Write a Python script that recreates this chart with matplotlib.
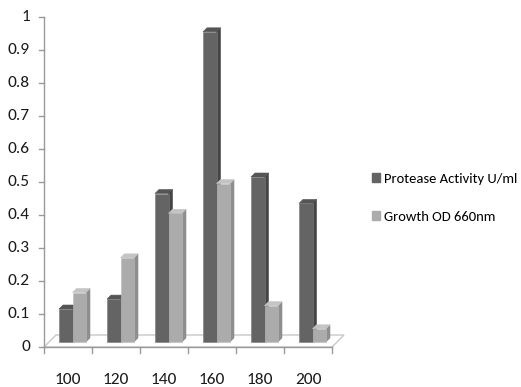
import numpy as np
import matplotlib
matplotlib.use("Agg")
import matplotlib.pyplot as plt
from matplotlib.patches import Polygon, Patch
from matplotlib import font_manager

names = {f.name for f in font_manager.fontManager.ttflist}
family = next((f for f in ["Carlito", "Liberation Sans Narrow", "Roboto Condensed",
                           "Open Sans Condensed", "Liberation Sans"] if f in names), "DejaVu Sans")
plt.rcParams["font.family"] = [family, "DejaVu Sans"]

# data
temps = ["100", "120", "140", "160", "180", "200"]
protease = [0.10, 0.13, 0.45, 0.94, 0.50, 0.42]
growth = [0.15, 0.255, 0.39, 0.48, 0.11, 0.04]
series_names = ["Protease Activity U/ml", "Growth OD 660nm"]

# face colours: front, side, top
dark = ("#646464", "#454545", "#555555")
light = ("#ababab", "#8e8e8e", "#c4c4c4")

W, H = 521, 387
fig = plt.figure(figsize=(W / 100, H / 100), dpi=100)
x0, x1, y0, y1 = 44, 332, 347, 17
ax = fig.add_axes([x0 / W, 1 - y0 / H, (x1 - x0) / W, (y0 - y1) / H])
n = len(temps)
ax.set_xlim(0, n)
ax.set_ylim(0, 1)
ax.axis("off")

# pixel -> data unit conversions for the pseudo-3d depth
ux = n / (x1 - x0)
uy = 1 / (y0 - y1)

def para(x, y, w, h, **kw):
    return Polygon(np.array([[x, y], [x + w[0], y + w[1]],
                             [x + w[0] + h[0], y + w[1] + h[1]],
                             [x + h[0], y + h[1]]]), closed=True, **kw)

# floor
fdx, fdy = 12 * ux, 12 * uy
ax.add_patch(para(0, 0, (n, 0), (fdx, fdy), facecolor="white",
                  edgecolor="#c8c8c8", lw=1.0, clip_on=False, zorder=1))

# y axis with ticks
ax.plot([0, 0], [0, 1], color="#9a9a9a", lw=1.0, clip_on=False, zorder=5)
for v in np.arange(0, 1.01, 0.1):
    ax.plot([-5 * ux, 0], [v, v], color="#9a9a9a", lw=1.0, clip_on=False)
    lab = "0" if v < 0.01 else ("1" if v > 0.99 else f"{v:.1f}")
    ax.text(-14 * ux, v, lab, ha="right", va="center", fontsize=12.5, color="#1a1a1a")

# x axis with ticks
ax.plot([0, n], [0, 0], color="#9a9a9a", lw=1.0, clip_on=False, zorder=5)
for i in range(n + 1):
    ax.plot([i, i], [0, -6 * uy], color="#9a9a9a", lw=1.0, clip_on=False)
for i, t in enumerate(temps):
    ax.text(i + 0.5, -33 * uy, t, ha="center", va="center", fontsize=12.5, color="#1a1a1a")

# bars
sx, sy = 5 * ux, 5 * uy      # shift of bars into the floor
dx, dy = 4 * ux, 4 * uy      # bar depth
bw = 13.5 * ux
left0 = 10 * ux
for i in range(n):
    for j, (vals, cols) in enumerate([(protease, dark), (growth, light)]):
        x = i + left0 + j * bw + sx
        yb = sy
        v = vals[i]
        front, side, top = cols
        ax.add_patch(para(x + bw, yb, (dx, dy), (0, v), facecolor=side, edgecolor=side,
                          lw=0.4, clip_on=False, zorder=3 + j))
        ax.add_patch(para(x, yb + v, (bw, 0), (dx, dy), facecolor=top, edgecolor=top,
                          lw=0.4, clip_on=False, zorder=3 + j))
        ax.add_patch(para(x, yb, (bw, 0), (0, v), facecolor=front, edgecolor="#7a7a7a" if j == 0 else "#bcbcbc",
                          lw=0.4, clip_on=False, zorder=3 + j))

handles = [Patch(facecolor=dark[0], edgecolor=dark[0]), Patch(facecolor=light[0], edgecolor=light[0])]
fig.legend(handles, series_names, loc="upper left", bbox_to_anchor=(372 / W, 1 - 173 / H),
           frameon=False, fontsize=10.5, handlelength=0.55, handleheight=0.55,
           handletextpad=0.3, labelspacing=1.75, borderpad=0, borderaxespad=0)

fig.savefig("out.png", dpi=100, facecolor="white")
